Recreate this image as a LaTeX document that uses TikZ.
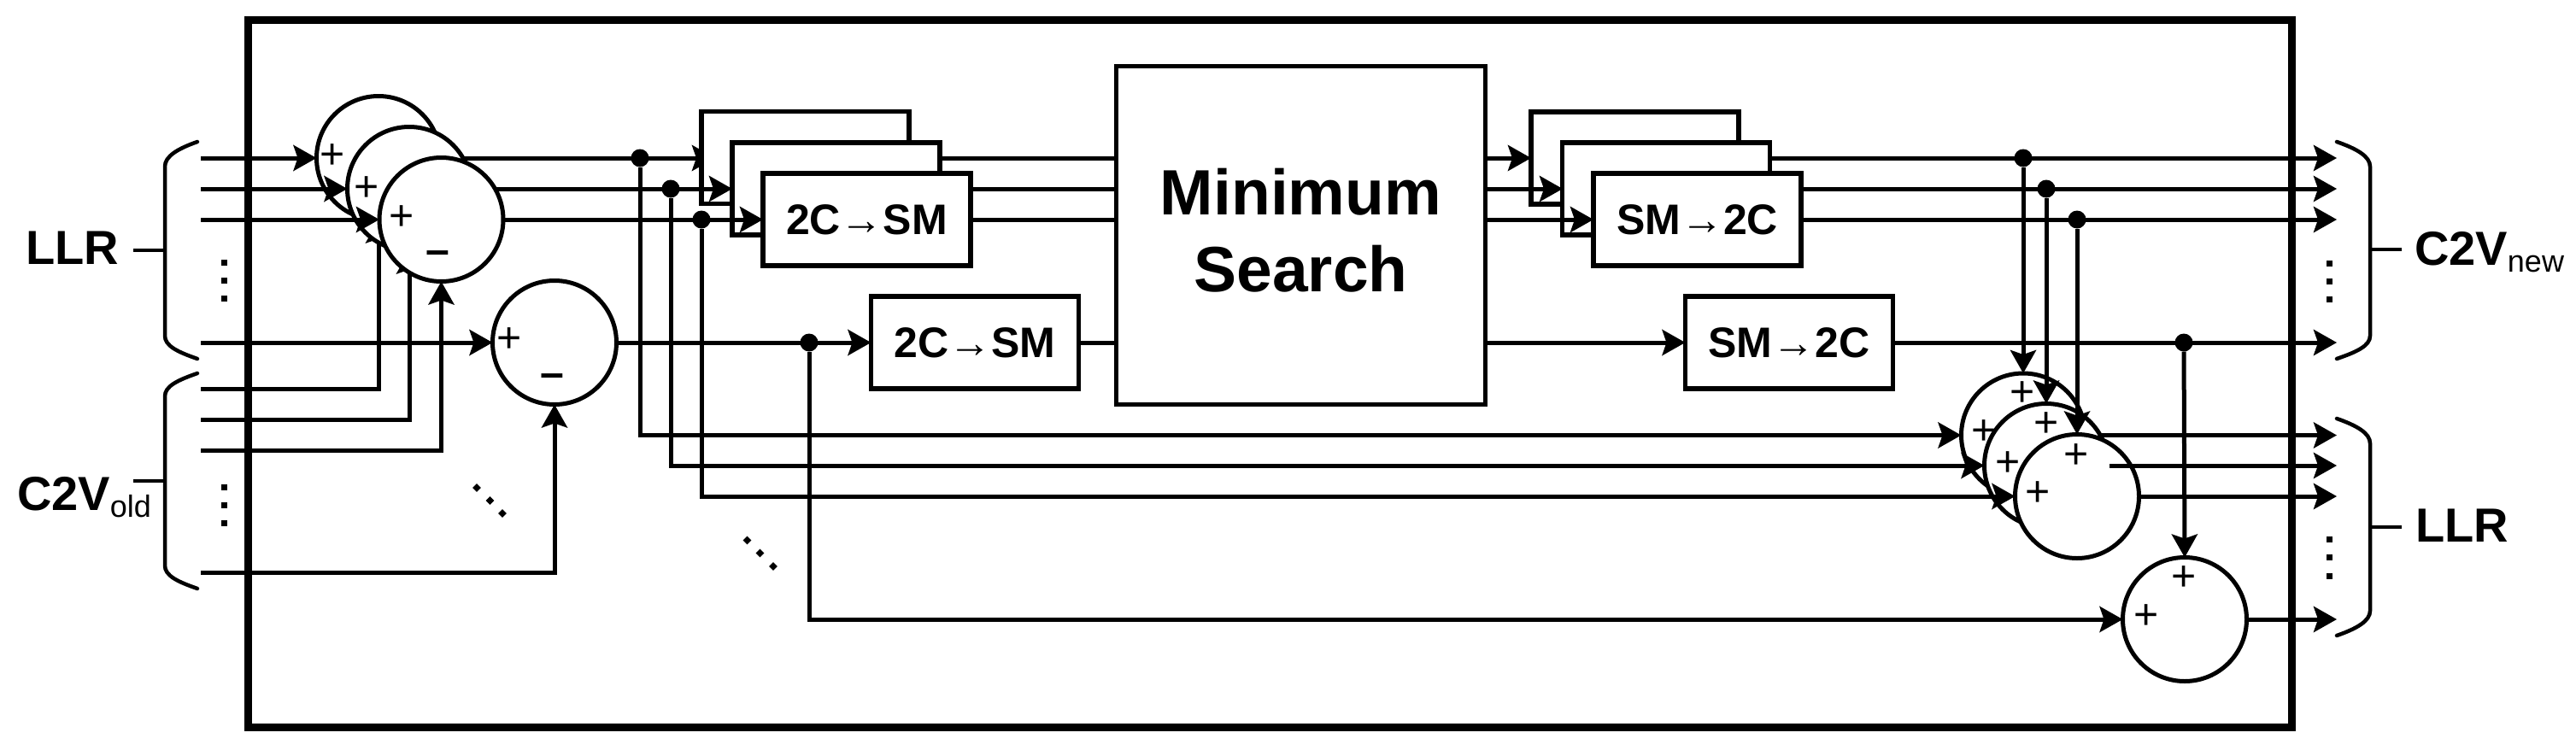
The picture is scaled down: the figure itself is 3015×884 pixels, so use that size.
\documentclass[tikz,border=0pt]{standalone}
\usepackage{fontspec}
\setmainfont{Liberation Sans}
\usetikzlibrary{arrows.meta}
\newcommand{\fsz}[1]{\fontsize{#1}{#1}\selectfont}
\tikzset{
  x=1pt,y=-1pt,
  wire/.style={line width=5pt,line join=miter},
  arr/.style={wire,-{Stealth[length=27pt,width=30pt,inset=5pt]}},
  sumc/.style={circle,draw,fill=white,line width=5pt,minimum size=145pt,inner sep=0pt,outer sep=0pt},
  conv/.style={rectangle,draw,fill=white,line width=5.5pt,minimum width=243pt,minimum height=108pt,inner sep=0pt,outer sep=0pt,font=\fsz{50}\bfseries},
  bigbox/.style={rectangle,draw,fill=white,line width=5.5pt,minimum width=432pt,minimum height=396pt,inner sep=0pt,outer sep=0pt},
  bigtext/.style={inner sep=0pt,outer sep=0pt,align=center,font=\fsz{75}\bfseries},
  frame/.style={rectangle,draw,line width=9pt,minimum width=2392pt,minimum height=828pt,inner sep=0pt,outer sep=0pt},
  junct/.style={circle,fill=black,minimum size=21pt,inner sep=0pt,outer sep=0pt},
  vdot/.style={rectangle,fill=black,minimum size=7pt,inner sep=0pt,outer sep=0pt},
  ddot/.style={rectangle,fill=black,rotate=45,minimum size=7pt,inner sep=0pt,outer sep=0pt},
  plus/.style={inner sep=0pt,outer sep=0pt,font=\fsz{50}},
  minus/.style={inner sep=0pt,outer sep=0pt,font=\fsz{50}\bfseries},
  lab/.style={anchor=base west,inner sep=0pt,outer sep=0pt,font=\fsz{56}\bfseries},
  brace/.style={line width=4.5pt,line cap=round},
  tick/.style={line width=4.5pt},
}
\newcommand{\sub}[1]{{\fsz{36}\mdseries\raisebox{-8pt}{#1}}}
\newcommand{\tsm}{2C{\mdseries→}SM}
\newcommand{\stc}{SM{\mdseries→}2C}
\begin{document}
\begin{tikzpicture}
\useasboundingbox (0,0) rectangle (3015,884);
\node[frame] (fr) at (1486.5,437) {};
% rail ends
\foreach \n/\y in {la/185,lb/221,lc/257,ld/401,le/455,lf/491,lg/527,lh/670}
  \coordinate (\n) at (235,\y);
\foreach \n/\y in {ra/185,rb/221,rc/257,rd/401,re/509.5,rf/545,rg/581,rh/725}
  \coordinate (\n) at (2735,\y);
% junctions
\node[junct] (j1) at (749,185) {};
\node[junct] (j2) at (785,221) {};
\node[junct] (j3) at (821,257) {};
\node[junct] (j4) at (947,401) {};
\node[junct] (j5) at (2368,185) {};
\node[junct] (j6) at (2395,221) {};
\node[junct] (j7) at (2431,257) {};
\node[junct] (j8) at (2556,401) {};
% braces
\draw[brace] (231,166) .. controls (208,174) and (193,183) .. (193,195) -- (193,393) .. controls (193,405) and (208,412) .. (231,420);
\draw[brace] (231,437) .. controls (208,445) and (193,452) .. (193,464) -- (193,662) .. controls (193,674) and (208,681) .. (231,689);
\draw[brace] (2735,166) .. controls (2758,174) and (2774,183) .. (2774,195) -- (2774,393) .. controls (2774,405) and (2758,412) .. (2735,420);
\draw[brace] (2735,490) .. controls (2758,498) and (2774,507) .. (2774,519) -- (2774,715) .. controls (2774,727) and (2758,736) .. (2735,744);
\coordinate (tl1a) at (156,293); \coordinate (tl1b) at (193,293);
\coordinate (tl2a) at (156,563); \coordinate (tl2b) at (193,563);
\coordinate (tr1a) at (2811,292); \coordinate (tr1b) at (2774,292);
\coordinate (tr2a) at (2811,617); \coordinate (tr2b) at (2774,617);
\draw[tick] (tl1a) -- (tl1b);
\draw[tick] (tl2a) -- (tl2b);
\draw[tick] (tr1a) -- (tr1b);
\draw[tick] (tr2a) -- (tr2b);
% labels
\node[lab] (t1) at (30,309) {LLR};
\node[lab] (t2) at (20,597) {C2V\sub{old}};
\node[lab] (t3) at (2826,310) {C2V\sub{new}};
\node[lab] (t4) at (2827,634) {LLR};
% ellipsis dots
\foreach \n/\x/\y in {v1/262/307.5,v2/262/328.5,v3/262/349.5,v4/262/570.5,v5/262/591.5,v6/262/612.5,v7/2726.5/308,v8/2726.5/329,v9/2726.5/350,v10/2726.5/631,v11/2726.5/652.5,v12/2726.5/674}
  \node[vdot] (\n) at (\x,\y) {};
\foreach \n/\x/\y in {d1/558/571,d2/573.5/586,d3/588/601,d4/874.5/632.5,d5/889.5/647.5,d6/905/663}
  \node[ddot] (\n) at (\x,\y) {};
% left subtractors
\coordinate (cc1) at (443,185);
\coordinate (cc2) at (479,221);
\coordinate (cc3) at (516.5,257);
\coordinate (t1a) at (837,185);
\coordinate (t2a) at (857,221);
\coordinate (t3a) at (893,257);
\draw[arr] (cc1) -- (t1a);
\node[sumc] (c1) at (cc1) {};
\node[plus] (p1) at (389,183) {+};
\draw[arr] (la) -- (c1.west);
\draw[arr] (le) -| (c1.south);
\draw[wire] (cc2) -- (t2a);
\node[sumc] (c2) at (cc2) {};
\node[plus] (p2) at (429,221) {+};
\draw[arr] (lb) -- (c2.west);
\draw[arr] (lf) -| (c2.south);
\draw[wire] (cc3) -- (t3a);
\node[sumc] (c3) at (cc3) {};
\node[plus] (p3) at (470,255) {+};
\node[minus] (m3) at (512,302) {–};
\draw[arr] (lc) -- (c3.west);
\draw[arr] (lg) -| (c3.south);
\node[sumc] (c4) at (649,401) {};
\node[plus] (p4) at (596,398) {+};
\node[minus] (m4) at (646,446) {–};
\draw[arr] (ld) -- (c4.west);
\draw[arr] (lh) -| (c4.south);
% converters in
\node[conv] (b1) at (942.5,184.5) {};
\draw[arr] (lb -| b1.west) -- (t2a);
\node[conv] (b2) at (978.5,221) {};
\draw[arr] (lc -| b2.west) -- (t3a);
\node[conv] (b3) at (1014.5,257) {\tsm};
\node[conv] (b4) at (1141,401) {\tsm};
\draw[arr] (c4.east) -- (b4.west);
% minimum search
\node[bigbox] (mm) at (1522.5,275.5) {};
\node[bigtext] (mt) at (1522.5,270) {Minimum\\[15pt]Search};
\draw[wire] (b2.east |- ra) -- (mm.west |- ra);
\draw[wire] (b3.east |- rb) -- (mm.west |- rb);
\draw[wire] (b3.east |- rc) -- (mm.west |- rc);
\draw[wire] (b4.east) -- (mm.west |- b4.east);
% converters out
\coordinate (t4a) at (1792,185);
\coordinate (t5a) at (1829,221);
\coordinate (t6a) at (1865,257);
\draw[arr] (mm.east |- ra) -- (t4a);
\node[conv] (s1) at (1913.5,185) {};
\draw[arr] (mm.east |- rb) -- (t5a);
\node[conv] (s2) at (1950,221) {};
\draw[arr] (mm.east |- rc) -- (t6a);
\node[conv] (s3) at (1986.5,257) {\stc};
\node[conv] (s4) at (2094,401) {\stc};
\draw[arr] (mm.east |- rd) -- (s4.west);
\draw[arr] (s2.east |- ra) -- (ra);
\draw[arr] (s3.east |- rb) -- (rb);
\draw[arr] (s3.east |- rc) -- (rc);
\draw[arr] (s4.east) -- (rd);
% right adders
\coordinate (cr1) at (2368,509.5);
\coordinate (cr2) at (2395,545);
\coordinate (cr3) at (2431,581);
\coordinate (o2) at (2469,545);
\draw[arr] (cr1) -- (re);
\node[sumc] (r1) at (cr1) {};
\node[plus] (q1) at (2367,461) {+};
\node[plus] (q2) at (2322,506) {+};
\draw[arr] (j5) -- (r1.north);
\draw[arr] (j1) |- (r1.west);
\node[sumc] (r2) at (cr2) {};
\node[plus] (q3) at (2395,497) {+};
\node[plus] (q4) at (2350,543) {+};
\draw[arr] (j6) -- (r2.north);
\draw[arr] (j2) |- (r2.west);
\node[sumc] (r3) at (cr3) {};
\node[plus] (q5) at (2430,534) {+};
\node[plus] (q6) at (2385.5,578) {+};
\draw[arr] (j7) -- (r3.north);
\draw[arr] (j3) |- (r3.west);
\draw[arr] (o2) -- (rf);
\draw[arr] (r3.east) -- (rg);
\node[sumc] (r4) at (2557,725) {};
\node[plus] (q7) at (2556,677) {+};
\node[plus] (q8) at (2512,722) {+};
\draw[arr] (j8) -- (r4.north);
\draw[arr] (j4) |- (r4.west);
\draw[arr] (r4.east) -- (rh);
\end{tikzpicture}
\end{document}
